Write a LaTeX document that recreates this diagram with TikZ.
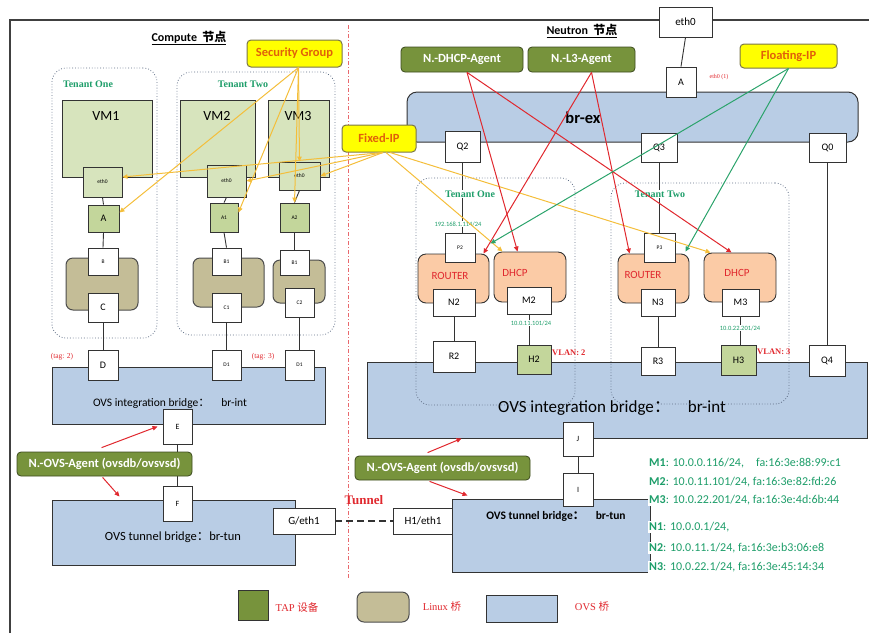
\documentclass[tikz,border=0pt]{standalone}
\usepackage{fontspec}
\setmainfont{Carlito}
\newfontfamily\cjk{Noto Sans CJK SC}
\newfontfamily\srf{Liberation Serif}
\usetikzlibrary{arrows.meta,calc}
\definecolor{vmg}{HTML}{D7E4BD}
\definecolor{tapg}{HTML}{C3D69B}
\definecolor{agent}{HTML}{77933C}
\definecolor{lbr}{HTML}{C4BD97}
\definecolor{ovs}{HTML}{B9CDE5}
\definecolor{peach}{HTML}{FBCBA6}
\definecolor{ylw}{HTML}{FFFF00}
\definecolor{ylwline}{HTML}{F4BE3A}
\definecolor{redl}{HTML}{E0282E}
\definecolor{grnl}{HTML}{2BA36B}
\definecolor{tgreen}{HTML}{1E9E6A}
\definecolor{orng}{HTML}{E0600A}
\definecolor{edge}{HTML}{333333}
\definecolor{tenedge}{HTML}{5F6E86}
\tikzset{
  box/.style={draw=edge, line width=0.9pt, fill=white, inner sep=0pt, font=\fontsize{10}{11}\selectfont},
  tiny/.style={font=\fontsize{5.5}{6}\selectfont},
  mid/.style={font=\fontsize{8}{9}\selectfont},
  vm/.style={draw=edge, line width=1pt, fill=vmg, inner sep=0pt},
  tap/.style={box, fill=tapg},
  lbridge/.style={draw=black!70, line width=1pt, fill=lbr, rounded corners=7pt, inner sep=0pt},
  ovsbr/.style={draw=edge, line width=1pt, fill=ovs, inner sep=0pt},
  agentbox/.style={draw=black!50!agent, line width=0.8pt, fill=agent, rounded corners=4pt, text=white, font=\bfseries\fontsize{12.5}{13}\selectfont, inner sep=0pt},
  tagbox/.style={draw=black!60!yellow, line width=1pt, fill=ylw, rounded corners=4pt, text=orng, font=\bfseries\fontsize{12.5}{13}\selectfont, inner sep=0pt},
  tenant/.style={draw=tenedge, dotted, line width=0.8pt, rounded corners=14pt, inner sep=0pt},
  svc/.style={draw=edge, line width=0.9pt, fill=peach, rounded corners=8pt, inner sep=0pt},
  wire/.style={draw=edge, line width=0.9pt},
  tip/.style={-{Triangle[length=5pt,width=4.5pt]}},
  yl/.style={draw=ylwline, line width=1pt, tip},
  rl/.style={draw=redl, line width=1pt, tip},
  gl/.style={draw=grnl, line width=1pt, tip},
  tlabel/.style={text=tgreen, fill=white, inner sep=1pt, font=\srf\bfseries\fontsize{10}{11}\selectfont},
  rtext/.style={text=redl, font=\srf\fontsize{7.5}{8}\selectfont},
  svtext/.style={text=redl, font=\fontsize{11}{12}\selectfont},
  iptext/.style={text=tgreen, font=\fontsize{6.5}{7}\selectfont},
  info/.style={text=tgreen, anchor=west, inner sep=1pt, fill=white, font=\fontsize{12}{13}\selectfont},
  legtext/.style={text=redl, font=\srf\fontsize{10.5}{11}\selectfont},
}
\newcommand\bx[7]{\node[#6, minimum width=#4pt-#2pt, minimum height=#5pt-#3pt] (#1) at ({(#2+#4)/2},{(#3+#5)/2}) {#7};}
\begin{document}
\begin{tikzpicture}[x=1pt,y=-1pt]
\useasboundingbox (0,0) rectangle (869,633);
% frame
\draw[line width=1.3pt, draw=black!75] (10,633) -- (10,20) -- (869,20);
\draw[draw=redl!70, line width=1pt, dash pattern=on 4pt off 2pt on 1pt off 2pt] (348,25) -- (348,578);
\node[font=\bfseries\fontsize{12}{13}\selectfont] (ttlC) at (189,38) {\underline{Compute\ \ {\cjk 节点}}};
\node[font=\bfseries\fontsize{12}{13}\selectfont] (ttlN) at (582,31) {\underline{Neutron\ \ {\cjk 节点}}};

% ===== compute side =====
\bx{tenL1}{52}{68}{157}{338}{tenant}{}
\bx{tenL2}{177}{72}{335}{335}{tenant}{}
\node[tlabel] (tl1) at (88,84) {Tenant One};
\node[tlabel] (tl2) at (243,84) {Tenant Two};
\bx{vm1}{62}{100}{152}{177}{vm}{}
\bx{vm2}{180}{100}{255}{177}{vm}{}
\bx{vm3}{268}{100}{329}{177}{vm}{}
\node[font=\fontsize{14}{15}\selectfont] (vm1l) at (106,116) {VM1};
\node[font=\fontsize{14}{15}\selectfont] (vm2l) at (217,116) {VM2};
\node[font=\fontsize{14}{15}\selectfont] (vm3l) at (298,116) {VM3};
\bx{e1}{83}{167}{122}{197}{tap,fill=vmg,tiny}{eth0}
\bx{e2}{207}{165}{246}{197}{tap,fill=vmg,tiny}{eth0}
\bx{e3}{279}{162}{320}{190}{tap,fill=vmg,tiny}{eth0}
\bx{aL}{88}{205}{119}{232}{tap}{A}
\bx{a1}{210}{203}{238}{232}{tap,tiny}{A1}
\bx{a2}{280}{203}{309}{232}{tap,tiny}{A2}
\bx{lb1}{66}{258}{138}{310}{lbridge}{}
\bx{lb2}{193}{258}{264}{307}{lbridge}{}
\bx{lb3}{273}{260}{325}{303}{lbridge}{}
\bx{b}{88}{248}{118}{275}{box,tiny}{B}
\bx{b1}{212}{248}{241}{275}{box,tiny}{B1}
\bx{b1x}{280}{250}{309}{275}{box,tiny}{B1}
\bx{c}{88}{293}{118}{322}{box}{C}
\bx{c1}{212}{293}{241}{322}{box,tiny}{C1}
\bx{c2}{285}{288}{314}{317}{box,tiny}{C2}
\bx{bil}{52}{367}{325}{424}{ovsbr}{}
\node[font=\fontsize{11.5}{12}\selectfont] (bilt) at (170,403) {OVS integration bridge{\cjk ：}\quad br-int};
\bx{d}{88}{350}{118}{380}{box}{D}
\bx{d1}{212}{350}{241}{380}{box,tiny}{D1}
\bx{d1x}{285}{350}{314}{380}{box,tiny}{D1}
\node[rtext] (tag2) at (62,357) {(tag: 2)};
\node[rtext] (tag3) at (263,357) {(tag: 3)};
\draw[wire] (e1.south) -- (aL.north);
\draw[wire] (aL.south) -- (b.north);
\draw[wire] (c.south) -- (d.north);
\draw[wire] (e2.south) -- (a1.north);
\draw[wire] (a1.south) -- (b1.north);
\draw[wire] (c1.south) -- (d1.north);
\draw[wire] (e3.south) -- (a2.north);
\draw[wire] (a2.south) -- (b1x.north);
\draw[wire] (c2.south) -- (d1x.north);
\bx{btl}{52}{500}{295}{565}{ovsbr}{}
\node[font=\fontsize{12.5}{13}\selectfont] (btlt) at (173,537) {OVS tunnel bridge{\cjk ：}br-tun};
\bx{e}{163}{409}{192}{444}{box,mid}{E}
\bx{f}{163}{486}{192}{521}{box,mid}{F}
\draw[wire] (e.south) -- (f.north);
\bx{agL}{17}{452}{192}{476}{agentbox}{N.-OVS-Agent (ovsdb/ovsvsd)}
\bx{g}{273}{508}{335}{534}{box,font=\fontsize{11}{12}\selectfont}{G/eth1}
\bx{h1}{393}{508}{453}{534}{box,font=\fontsize{11}{12}\selectfont}{H1/eth1}
\draw[draw=edge, line width=1.3pt, dash pattern=on 7pt off 4pt] (g.east) -- (h1.west);
\node[text=redl, font=\srf\bfseries\fontsize{13}{14}\selectfont] (tun) at (364,500) {Tunnel};
\draw[rl] ($(agL.north west)+(85,-4)$) -- ([xshift=-5pt]e.west);
\draw[rl] ($(agL.south west)+(86,1)$) -- ($(btl.north west)+(68,-3)$);

% ===== neutron side =====
\bx{brex}{407}{92}{858}{142}{ovsbr,rounded corners=10pt}{}
\node[font=\bfseries\fontsize{16.5}{18}\selectfont] (brexl) at (583,118) {br-ex};
\bx{eth0R}{659}{7}{712}{37}{box,font=\fontsize{11}{12}\selectfont}{eth0}
\bx{aR}{666}{67}{696}{97}{box}{A}
\draw[wire] (eth0R.south) -- (aR.north);
\node[text=redl, font=\srf\fontsize{6}{7}\selectfont] (eth01) at (719,77) {eth0 (1)};
\bx{agD}{401}{47}{523}{72}{agentbox}{N.-DHCP-Agent}
\bx{agL3}{528}{47}{635}{72}{agentbox}{N.-L3-Agent}
\bx{flt}{740}{44}{837}{68}{tagbox}{Floating-IP}
\bx{sg}{247}{40}{342}{67}{tagbox}{Security Group}
\bx{fix}{342}{125}{416}{152}{tagbox}{Fixed-IP}
\bx{q2}{445}{131}{480}{162}{box}{Q2}
\bx{q3}{641}{133}{677}{162}{box}{Q3}
\bx{q0}{809}{133}{846}{162}{box}{Q0}
\bx{bir}{367}{362}{867}{438}{ovsbr}{}
\node[font=\fontsize{17}{18}\selectfont] (birt) at (612,408) {OVS integration bridge{\cjk ：}\quad br-int};
\bx{tenR1}{416}{178}{575}{405}{tenant}{}
\bx{tenR2}{611}{183}{789}{404}{tenant}{}
\bx{rtL}{418}{254}{489}{303}{svc}{}
\bx{dhL}{494}{252}{566}{302}{svc}{}
\bx{rtR}{618}{254}{689}{303}{svc}{}
\bx{dhR}{704}{253}{776}{302}{svc}{}
\node[svtext] (rtLt) at (450,276) {ROUTER};
\node[svtext] (dhLt) at (515,273) {DHCP};
\node[svtext] (rtRt) at (643,275) {ROUTER};
\node[svtext] (dhRt) at (737,273) {DHCP};
\bx{p2}{445}{233}{475}{262}{box,tiny}{P2}
\bx{p3}{644}{233}{675}{262}{box,tiny}{P3}
\bx{n2}{433}{289}{475}{316}{box}{N2}
\bx{m2}{507}{287}{551}{314}{box}{M2}
\bx{n3}{641}{289}{675}{316}{box}{N3}
\bx{m3}{722}{289}{759}{316}{box}{M3}
\bx{r2}{433}{341}{475}{372}{box}{R2}
\bx{h2}{517}{345}{551}{374}{tap}{H2}
\bx{r3}{641}{347}{675}{375}{box}{R3}
\bx{h3}{721}{345}{756}{375}{tap}{H3}
\bx{q4}{809}{345}{845}{376}{box}{Q4}
\draw[wire] (q2.south) -- (q2.south |- p2.north);
\draw[wire] (q3.south) -- (q3.south |- p3.north);
\draw[wire] (q0.south) -- (q0.south |- q4.north);
\draw[wire] (n2.south) -- (n2.south |- r2.north);
\draw[wire] (m2.south) -- (m2.south |- h2.north);
\draw[wire] (n3.south) -- (n3.south |- r3.north);
\draw[wire] (m3.south) -- (m3.south |- h3.north);
\node[tlabel] (tr1) at (470,194) {Tenant One};
\node[tlabel] (tr2) at (660,194) {Tenant Two};
\node[iptext, fill=white, inner sep=0.5pt] (ip1) at (458,224) {192.168.1.114/24};
\node[iptext, fill=white, inner sep=0.5pt] (ip2) at (531,323) {10.0.11.101/24};
\node[iptext, fill=white, inner sep=0.5pt] (ip3) at (740,328) {10.0.22.201/24};
\node[text=redl, anchor=west, inner sep=0pt, font=\srf\bfseries\fontsize{8.5}{9}\selectfont] (vl2) at (552,353) {VLAN: 2};
\node[text=redl, anchor=west, inner sep=0pt, font=\srf\bfseries\fontsize{8.5}{9}\selectfont] (vl3) at (757,352) {VLAN: 3};
\bx{btr}{452}{499}{650}{572}{ovsbr}{}
\node[font=\bfseries\fontsize{11.5}{12}\selectfont] (btrt) at (556,516) {OVS tunnel bridge{\cjk ：}\quad br-tun};
\bx{jj}{563}{422}{593}{456}{box,mid}{J}
\bx{ii}{563}{473}{593}{506}{box,mid}{I}
\draw[wire] (jj.south) -- (ii.north);
\bx{agR}{355}{456}{530}{480}{agentbox}{N.-OVS-Agent (ovsdb/ovsvsd)}
\draw[rl] ($(agR.north west)+(73,-3)$) -- ($(bir.south west)+(95,0)$);
\draw[rl] ($(agR.south west)+(75,1)$) -- ($(btr.north west)+(16,-3)$);

% info text
\node[info] (im1) at (648,463) {\textbf{M1}: 10.0.0.116/24,\quad fa:16:3e:88:99:c1};
\node[info] (im2) at (648,482) {\textbf{M2}: 10.0.11.101/24, fa:16:3e:82:fd:26};
\node[info] (im3) at (648,500) {\textbf{M3}: 10.0.22.201/24, fa:16:3e:4d:6b:44};
\node[info] (in1) at (648,527) {\textbf{N1}: 10.0.0.1/24,};
\node[info] (in2) at (648,548) {\textbf{N2}: 10.0.11.1/24, fa:16:3e:b3:06:e8};
\node[info] (in3) at (648,567) {\textbf{N3}: 10.0.22.1/24, fa:16:3e:45:14:34};

% legend
\bx{lg1}{238}{590}{268}{620}{draw=edge, line width=1pt, fill=agent, inner sep=0pt}{}
\bx{lg2}{357}{592}{409}{622}{lbridge}{}
\bx{lg3}{486}{595}{557}{622}{ovsbr}{}
\node[legtext] (lt1) at (297,607) {TAP {\cjk 设备}};
\node[legtext] (lt2) at (442,607) {Linux {\cjk 桥}};
\node[legtext] (lt3) at (592,607) {OVS {\cjk 桥}};

% ===== coloured relations =====
\coordinate (sgo) at ($(sg.south)+(4,0)$);
\draw[yl] (sgo) -- ([yshift=6pt]aL.east);
\draw[yl] (sgo) -- ([yshift=5pt]a1.east);
\draw[yl] (sgo) -- (e3.north);
\draw[yl] (sgo) -- (a2.north);
\coordinate (fxo) at ($(fix.south)+(4,0)$);
\draw[yl] (fxo) -- ([yshift=5pt]e1.east);
\draw[yl] (fxo) -- (e2.east);
\draw[yl] (fxo) -- (e3.east);
\draw[yl] ($(fix.south)+(7,0)$) -- ($(dhL.north west)+(9,0)$);
\draw[yl] ($(fix.south)+(11,0)$) -- ($(dhR.north west)+(7,0)$);
\draw[rl] ($(agD.south)+(5,0)$) -- ($(dhL.north west)+(24,0)$);
\draw[rl] ($(agD.south)+(5,0)$) -- ($(dhR.north west)+(28,0)$);
\draw[rl] ($(agL3.south)+(10,0)$) -- ($(rtL.north east)+(-6,0)$);
\draw[rl] ($(agL3.south)+(10,0)$) -- ($(rtR.north west)+(12,0)$);
\draw[gl] (flt.south) -- ($(rtL.north east)+(1,-10)$);
\draw[gl] (flt.south) -- ($(rtR.north east)+(-4,-2)$);
\end{tikzpicture}
\end{document}
